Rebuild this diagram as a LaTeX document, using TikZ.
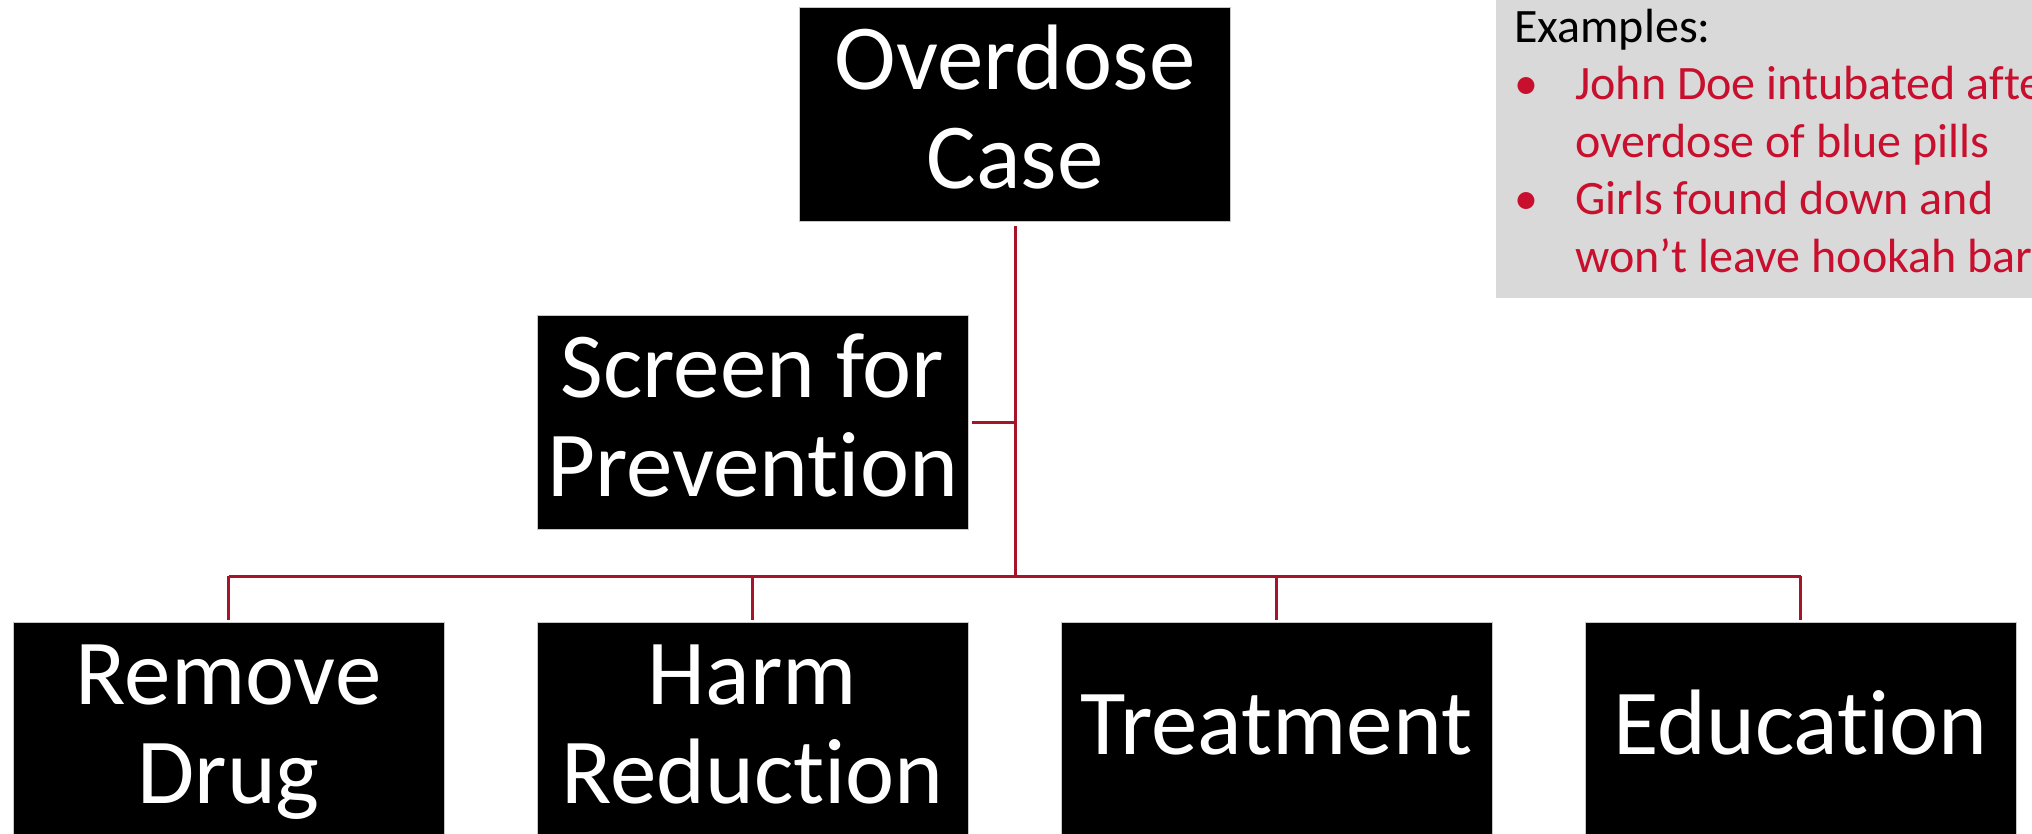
\documentclass[tikz,border=0pt]{standalone}
\usepackage{fontspec}
\setmainfont{Carlito}[Ligatures=NoCommon]
\usepackage{array}
\definecolor{exred}{RGB}{200,16,46}
\definecolor{linkred}{RGB}{165,20,40}
\definecolor{panelgray}{RGB}{217,217,217}
\newcommand\bstrut{\rule[-20pt]{0pt}{90pt}}
\tikzset{
  box/.style={rectangle, fill=black, draw=gray!45, line width=1pt,
    minimum width=431pt, minimum height=214pt, inner sep=0pt,
    text=white, align=center, font=\fontsize{93}{99}\selectfont},
  link/.style={draw=linkred, line width=3pt},
}
\begin{document}
\begin{tikzpicture}[x=1pt,y=-1pt]
\useasboundingbox (0,0) rectangle (2032,833);
\clip (0,0) rectangle (2032,833);
% examples panel
\fill[panelgray] (1496,-10) rectangle (2045,298);
\node[anchor=base west, inner sep=0pt, font=\fontsize{48}{57.5}\selectfont] (ex) at (1514,42)
  {\begin{tabular}[t]{@{}p{61pt}@{}l@{}}
   \multicolumn{2}{@{}l@{}}{Examples:}\\
   \textcolor{exred}{\textbullet} & \textcolor{exred}{John Doe intubated after}\\
    & \textcolor{exred}{overdose of blue pills}\\
   \textcolor{exred}{\textbullet} & \textcolor{exred}{Girls found down and}\\
    & \textcolor{exred}{won’t leave hookah bar}
   \end{tabular}};
% boxes
\node[box] (od) at (1015,114) {\bstrut Overdose\\\bstrut Case};
\node[box] (sc) at (752.5,422) {\bstrut Screen for\\\bstrut Prevention};
\node[box] (rd) at (228.5,729) {\bstrut Remove\\\bstrut Drug};
\node[box] (hr) at (752.5,729) {\bstrut Harm\\\bstrut Reduction};
\node[box] (tr) at (1276.5,729) {\bstrut Treatment};
\node[box] (ed) at (1800.5,729) {\bstrut Education};
% connectors
\coordinate (busc) at (1015,576);
\draw[link, shorten <=4pt] (od.south) -- (busc);
\draw[link, shorten <=3pt] (sc.east) -- (sc.east -| busc);
\draw[link] (rd.north |- busc) -- (ed.north |- busc);
\draw[link, shorten >=2pt] (rd.north |- busc) -- (rd.north);
\draw[link, shorten >=2pt] (hr.north |- busc) -- (hr.north);
\draw[link, shorten >=2pt] (tr.north |- busc) -- (tr.north);
\draw[link, shorten >=2pt] (ed.north |- busc) -- (ed.north);
\end{tikzpicture}
\end{document}
